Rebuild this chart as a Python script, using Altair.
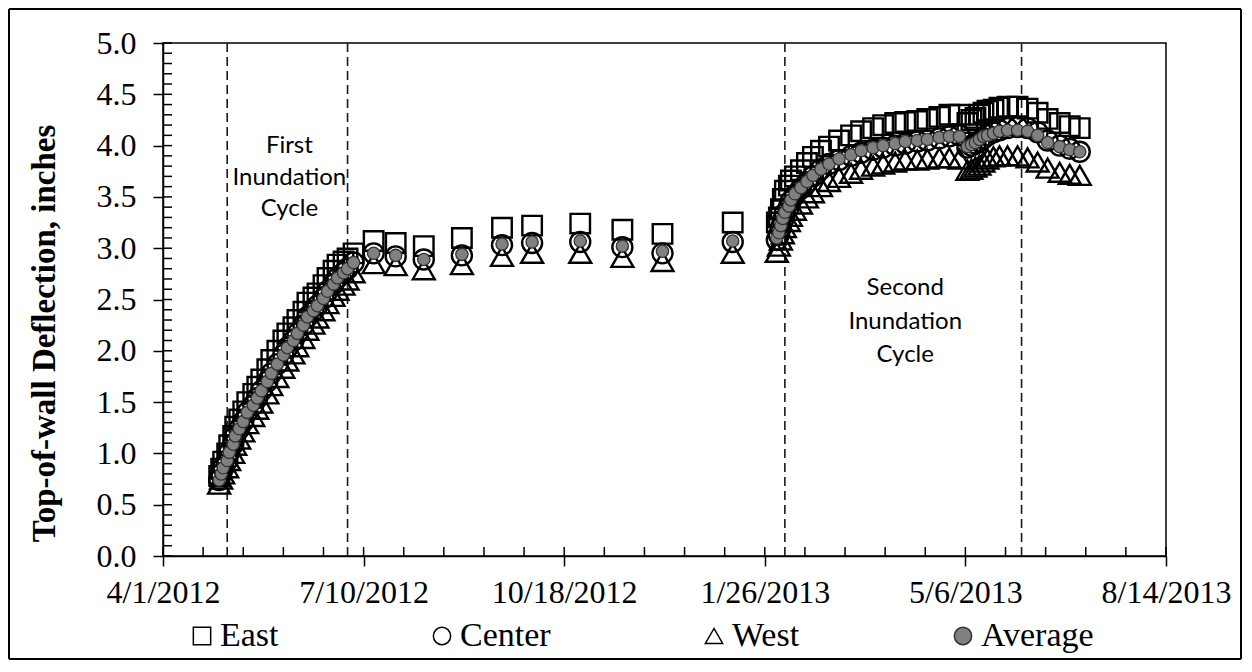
import altair as alt
import pandas as pd
import numpy as np

# ---------------- data ----------------
dates = [
    # first inundation cycle
    "2012-04-29", "2012-04-30", "2012-05-01", "2012-05-03", "2012-05-04", "2012-05-06",
    "2012-05-07", "2012-05-09", "2012-05-11", "2012-05-13", "2012-05-16", "2012-05-18",
    "2012-05-20", "2012-05-23", "2012-05-25", "2012-05-28", "2012-05-31", "2012-06-02",
    "2012-06-05", "2012-06-07", "2012-06-10", "2012-06-12", "2012-06-15", "2012-06-17",
    "2012-06-20", "2012-06-22", "2012-06-25", "2012-06-27", "2012-06-30", "2012-07-02",
    "2012-07-05",
    # between cycles
    "2012-07-15", "2012-07-26", "2012-08-09", "2012-08-28", "2012-09-17", "2012-10-02",
    "2012-10-26", "2012-11-16", "2012-12-06", "2013-01-10",
    # second inundation cycle
    "2013-02-01", "2013-02-02", "2013-02-03", "2013-02-04", "2013-02-05", "2013-02-07",
    "2013-02-08", "2013-02-10", "2013-02-13", "2013-02-16", "2013-02-19", "2013-02-23",
    "2013-02-27", "2013-03-04", "2013-03-10", "2013-03-15", "2013-03-21", "2013-03-26",
    "2013-04-01", "2013-04-06", "2013-04-12", "2013-04-17", "2013-04-23", "2013-04-28",
    "2013-05-03", "2013-05-07", "2013-05-09", "2013-05-11", "2013-05-13", "2013-05-15",
    "2013-05-17", "2013-05-20", "2013-05-23", "2013-05-27", "2013-06-01", "2013-06-06",
    "2013-06-11", "2013-06-16", "2013-06-22", "2013-06-27", "2013-07-02",
]

east = [
    0.78, 0.85, 0.92, 1.00, 1.08, 1.17, 1.26, 1.33, 1.41, 1.50, 1.58, 1.65, 1.72, 1.82,
    1.91, 2.00, 2.10, 2.17, 2.23, 2.30, 2.38, 2.47, 2.52, 2.56, 2.64, 2.71, 2.78, 2.84,
    2.87, 2.90, 2.95,
    3.07, 3.05, 3.02, 3.10, 3.20, 3.22, 3.24, 3.18, 3.14, 3.25,
    3.25, 3.30, 3.38, 3.48, 3.56, 3.61, 3.66, 3.70, 3.76, 3.83, 3.89, 3.95, 3.99,
    4.05, 4.10, 4.14, 4.17, 4.20, 4.22, 4.23, 4.24, 4.26, 4.28, 4.30,
    4.30, 4.22, 4.25, 4.27, 4.30, 4.32, 4.34, 4.35, 4.37, 4.38,
    4.38, 4.36, 4.32, 4.26, 4.22, 4.19, 4.17,
]

center = [
    0.74, 0.80, 0.86, 0.93, 1.01, 1.09, 1.17, 1.24, 1.31, 1.40, 1.47, 1.54, 1.61, 1.70,
    1.78, 1.87, 1.96, 2.03, 2.10, 2.17, 2.25, 2.33, 2.39, 2.44, 2.51, 2.58, 2.65, 2.71,
    2.76, 2.80, 2.86,
    2.95, 2.92, 2.89, 2.93, 3.03, 3.05, 3.06, 3.01, 2.95, 3.06,
    3.08, 3.13, 3.20, 3.27, 3.34, 3.40, 3.46, 3.52, 3.58, 3.64, 3.70, 3.77, 3.82,
    3.86, 3.90, 3.93, 3.96, 3.98, 4.00, 4.02, 4.04, 4.05, 4.07, 4.09,
    4.10, 3.98, 4.00, 4.02, 4.04, 4.07, 4.10, 4.13, 4.15, 4.17,
    4.18, 4.17, 4.13, 4.05, 4.00, 3.97, 3.94,
]

west = [
    0.70, 0.75, 0.80, 0.86, 0.93, 1.00, 1.08, 1.14, 1.21, 1.29, 1.36, 1.43, 1.49, 1.58,
    1.66, 1.74, 1.83, 1.90, 1.97, 2.04, 2.12, 2.20, 2.26, 2.32, 2.39, 2.46, 2.53, 2.59,
    2.64, 2.69, 2.76,
    2.85, 2.83, 2.79, 2.84, 2.92, 2.95, 2.95, 2.91, 2.87, 2.95,
    2.96, 3.02, 3.08, 3.14, 3.20, 3.26, 3.31, 3.37, 3.43, 3.49, 3.54, 3.60, 3.65,
    3.69, 3.73, 3.77, 3.80, 3.82, 3.84, 3.86, 3.86, 3.87, 3.88, 3.88,
    3.87, 3.76, 3.77, 3.79, 3.81, 3.84, 3.87, 3.89, 3.90, 3.90,
    3.90, 3.88, 3.84, 3.78, 3.74, 3.72, 3.71,
]

average = [
    0.74, 0.80, 0.86, 0.93, 1.01, 1.09, 1.17, 1.24, 1.31, 1.40, 1.47, 1.54, 1.61, 1.70,
    1.78, 1.87, 1.96, 2.03, 2.10, 2.17, 2.25, 2.33, 2.39, 2.44, 2.51, 2.58, 2.65, 2.71,
    2.76, 2.80, 2.86,
    2.95, 2.93, 2.89, 2.94, 3.04, 3.06, 3.07, 3.02, 2.97, 3.07,
    3.10, 3.15, 3.22, 3.29, 3.35, 3.41, 3.47, 3.53, 3.59, 3.65, 3.71, 3.77, 3.82,
    3.87, 3.91, 3.95, 3.98, 4.00, 4.02, 4.04, 4.05, 4.06, 4.08, 4.09,
    4.09, 3.99, 4.01, 4.03, 4.06, 4.09, 4.10, 4.12, 4.14, 4.15,
    4.15, 4.14, 4.10, 4.03, 3.99, 3.96, 3.94,
]

series_names = ["East", "Center", "West", "Average"]
series_shapes = ["square", "circle", "triangle-up", "circle"]
series_fills = ["transparent", "transparent", "transparent", "#808080"]
series_strokes = ["#000000", "#000000", "#000000", "#333333"]

cycle_lines = ["2012-05-03", "2012-07-02", "2013-02-05", "2013-06-03"]

x_tick_dates = ["2012-04-01", "2012-07-10", "2012-10-18", "2013-01-26", "2013-05-06", "2013-08-14"]
y_tick_values = [0.0, 0.5, 1.0, 1.5, 2.0, 2.5, 3.0, 3.5, 4.0, 4.5, 5.0]

ann_text = ["First", "Inundation", "Cycle", "Second", "Inundation", "Cycle"]
ann_date = ["2012-06-03", "2012-06-03", "2012-06-03", "2013-04-06", "2013-04-06", "2013-04-06"]
ann_value = [4.00, 3.68, 3.38, 2.61, 2.28, 1.96]


def dt(s):
    y, m, d = (int(p) for p in s.split("-"))
    return alt.DateTime(year=y, month=m, date=d, utc=True)


W, H = 1003, 513

x_def = alt.X(
    "date:T",
    scale=alt.Scale(type="utc", domain=[dt("2012-04-01"), dt("2013-08-14")]),
    axis=alt.Axis(
        values=[dt(s) for s in x_tick_dates],
        format="%-m/%-d/%Y",
        title=None,
        labelPadding=11,
        labelFlush=False,
        labelOverlap=False,
        labelBound=False,
    ),
)
y_def = alt.Y(
    "value:Q",
    scale=alt.Scale(domain=[0, 5], nice=False, zero=True),
    axis=alt.Axis(
        values=y_tick_values,
        format=".1f",
        title="Top-of-wall Deflection, inches",
        titleFont="Liberation Serif",
        titleFontWeight="bold",
        titleFontSize=33,
        titlePadding=35,
        titleY=290,
        labelPadding=17,
    ),
)

legend_def = alt.Legend(
    title=None, orient="none", legendX=22, legendY=576, direction="horizontal",
    columns=4, columnPadding=146, padding=0,
    labelFont="Liberation Serif", labelFontSize=34, labelColor="black",
    labelOffset=1, symbolSize=300, symbolStrokeWidth=1.5,
)
shape_def = alt.Shape("series:N", scale=alt.Scale(domain=series_names, range=series_shapes), legend=legend_def)
fill_def = alt.Fill("series:N", scale=alt.Scale(domain=series_names, range=series_fills), legend=legend_def)
stroke_def = alt.Stroke("series:N", scale=alt.Scale(domain=series_names, range=series_strokes), legend=legend_def)

minor_x = pd.DataFrame({"date": [d.strftime("%Y-%m-%d") for d in pd.date_range("2012-04-01", "2013-08-14", freq="20D")]})
minor_y = pd.DataFrame({"value": np.round(np.arange(0, 5.01, 0.1), 1)})

frame_df = pd.DataFrame({"k": [0]})
frame_l, frame_r, frame_t, frame_b = -154, W + 75, -34, H + 103
frame = alt.layer(
    alt.Chart(frame_df).mark_rule(color="black", strokeWidth=2).encode(
        x=alt.value(frame_l), y=alt.value(frame_t), y2=alt.value(frame_b)),
    alt.Chart(frame_df).mark_rule(color="black", strokeWidth=2).encode(
        x=alt.value(frame_r), y=alt.value(frame_t), y2=alt.value(frame_b)),
    alt.Chart(frame_df).mark_rule(color="black", strokeWidth=2).encode(
        y=alt.value(frame_t), x=alt.value(frame_l), x2=alt.value(frame_r)),
    alt.Chart(frame_df).mark_rule(color="black", strokeWidth=2).encode(
        y=alt.value(frame_b), x=alt.value(frame_l), x2=alt.value(frame_r)),
)

x_in_ticks = alt.Chart(minor_x).mark_rule(color="black", strokeWidth=1.5).encode(
    x=x_def, y=alt.value(H), y2=alt.value(H - 9))
y_in_ticks = alt.Chart(minor_y).mark_rule(color="black", strokeWidth=1.5).encode(
    y=y_def, x=alt.value(0), x2=alt.value(9))

dashed = alt.Chart(pd.DataFrame({"date": cycle_lines})).mark_rule(
    color="#1a1a1a", strokeWidth=1.6, strokeDash=[9, 5]).encode(x=x_def)

marker_size = {"East": 380, "Center": 400, "West": 480, "Average": 150}
marker_sw = {"East": 2.4, "Center": 2.4, "West": 2.4, "Average": 1.3}

series_layers = []
for name, vals in zip(series_names, [east, center, west, average]):
    sdf = pd.DataFrame({"date": dates, "value": vals, "series": name})
    series_layers.append(
        alt.Chart(sdf).mark_point(filled=True, opacity=1, size=marker_size[name],
                                  strokeWidth=marker_sw[name]).encode(
            x=x_def, y=y_def, shape=shape_def, fill=fill_def, stroke=stroke_def)
    )

ann = alt.Chart(pd.DataFrame({"text": ann_text, "date": ann_date, "value": ann_value})).mark_text(
    font="Lato", fontSize=24, color="black", align="center", baseline="middle").encode(
    x=x_def, y=y_def, text="text:N")

chart = alt.layer(frame, dashed, x_in_ticks, y_in_ticks, *series_layers, ann).properties(
    width=W, height=H,
    autosize=alt.AutoSizeParams(type="none"),
    padding={"left": 155, "top": 35, "right": 76, "bottom": 104},
    background="white",
).configure_view(
    stroke="black", strokeWidth=1.5
).configure_axis(
    domainColor="black", domainWidth=1.5,
    tickColor="black", tickWidth=1.5, tickSize=10,
    labelColor="black", labelFont="Liberation Serif", labelFontSize=32,
    titleColor="black", grid=False,
)

chart.save("out.html", embed_options={"renderer": "svg", "actions": False})
